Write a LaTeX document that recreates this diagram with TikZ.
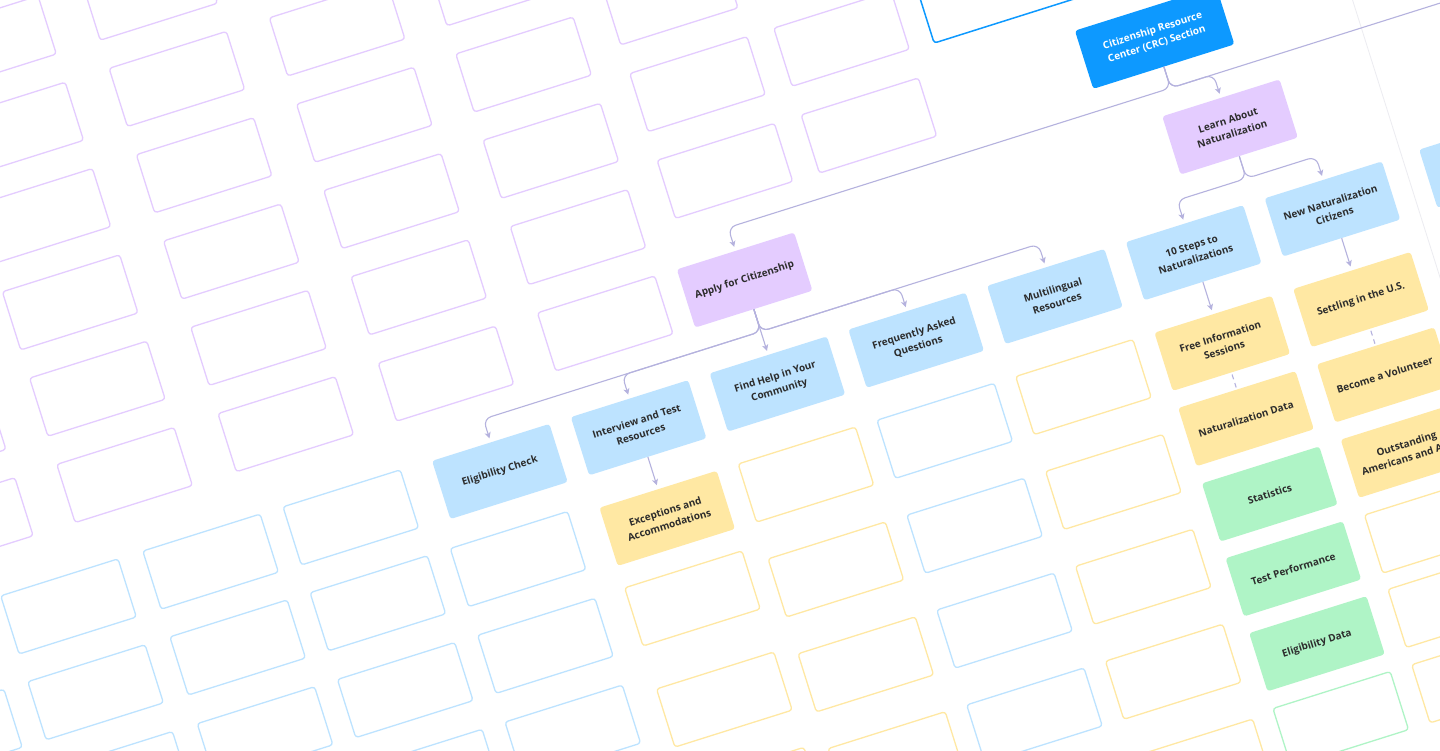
\documentclass[tikz,border=0pt]{standalone}
\usepackage{fontspec}
\setmainfont{Open Sans}
\usetikzlibrary{arrows.meta}
\definecolor{crcblue}{HTML}{0D99FF}
\definecolor{lilac}{HTML}{E4CCFF}
\definecolor{sky}{HTML}{BDE3FF}
\definecolor{butter}{HTML}{FFE8A3}
\definecolor{mint}{HTML}{AFF4C6}
\definecolor{wire}{HTML}{B5B2DE}
\definecolor{ink}{HTML}{2C2C2C}
\definecolor{divider}{HTML}{ECECF1}
\tikzset{
  card/.style={rounded corners=3pt, minimum width=123pt, minimum height=61pt, inner sep=0pt,
    align=center, text=ink, font=\bfseries\fontsize{10}{14}\selectfont},
  lilaccard/.style={card, fill=lilac},
  skycard/.style={card, fill=sky},
  buttercard/.style={card, fill=butter},
  mintcard/.style={card, fill=mint},
  ghost/.style={draw=#1, line width=1.3pt, rounded corners=3pt},
  link/.style={draw=wire, line width=1.1pt, rounded corners=8pt,
    -{Stealth[length=6pt,width=6pt,inset=1.5pt]}, shorten >=4pt},
  dashlink/.style={draw=wire, line width=1.1pt, dash pattern=on 5pt off 4pt,
    shorten <=2pt, shorten >=2pt}
}
\begin{document}
\begin{tikzpicture}[x=1pt, y=1pt]
\useasboundingbox (0,-750) rectangle (1440,0);
\fill[white] (0,-750) rectangle (1440,0);
\clip (0,-750) rectangle (1440,0);
\begin{scope}[transform canvas={rotate=17.5}]
\foreach \u in {-24,145,313,480}
  \foreach \v in {-38,-128.5,-219,-309.5,-400,-490.5}
    \draw[ghost=lilac, shift={(\u,\v)}] (-61.5,-30.5) rectangle (61.5,30.5);
\foreach \u/\v in {-191/-400,-191/-490.5,640/-199,640/-290,640/-381,791/-199,791/-290,791/-381}
  \draw[ghost=lilac, shift={(\u,\v)}] (-61.5,-30.5) rectangle (61.5,30.5);
\foreach \u in {-117,32,179}
  \foreach \v in {-599,-689,-780,-871}
    \draw[ghost=sky, shift={(\u,\v)}] (-61.5,-30.5) rectangle (61.5,30.5);
\foreach \u/\v in {-265/-689,-265/-780,326/-689,326/-780,326/-871,326/-962}
  \draw[ghost=sky, shift={(\u,\v)}] (-61.5,-30.5) rectangle (61.5,30.5);
\foreach \v in {-695,-794.5,-894,-993.5,-1093} {
  \draw[ghost=sky, shift={(771.5,\v)}] (-61.5,-30.5) rectangle (61.5,30.5);
  \draw[ghost=butter, shift={(626,\v)}] (-61.5,-30.5) rectangle (61.5,30.5);
  \draw[ghost=butter, shift={(917,\v)}] (-61.5,-30.5) rectangle (61.5,30.5);
}
\foreach \u/\v in {480.5/-779,480.5/-885,480.5/-985,1208/-932,1208/-1010,1208/-1089}
  \draw[ghost=butter, shift={(\u,\v)}] (-61.5,-30.5) rectangle (61.5,30.5);
\draw[ghost=mint, shift={(1062.5,-1089)}] (-61.5,-30.5) rectangle (61.5,30.5);
\draw[crcblue, line width=1.5pt, rounded corners=3pt] (878,-322) rectangle (1130,-230);
\draw[divider, line width=0.8pt] (1290,60) -- (1290,-1200);

\node[card, fill=crcblue, text=white, minimum width=148pt] (crc) at (1090,-383) {Citizenship Resource\\Center (CRC) Section};
\node[lilaccard] (apply) at (626,-491) {Apply for Citizenship};
\node[lilaccard] (learn) at (1135,-491) {Learn About\\Naturalization};
\node[skycard] (elig) at (335,-600) {Eligibility Check};
\node[skycard] (interview) at (480.5,-600) {Interview and Test\\Resources};
\node[skycard] (findhelp) at (626,-600) {Find Help in Your\\Community};
\node[skycard] (faq) at (771.5,-600) {Frequently Asked\\Questions};
\node[skycard] (multi) at (917,-600) {Multilingual\\Resources};
\node[skycard] (tensteps) at (1062.5,-600) {10 Steps to\\Naturalizations};
\node[skycard] (newnat) at (1208,-600) {New Naturalization\\Citizens};
\node[skycard] (nextsec) at (1370,-600) {};
\node[buttercard] (except) at (480.5,-695) {Exceptions and\\Accommodations};
\node[buttercard] (freeinfo) at (1062.5,-695) {Free Information\\Sessions};
\node[buttercard] (natdata) at (1062.5,-774) {Naturalization Data};
\node[mintcard] (stats) at (1062.5,-853) {Statistics};
\node[mintcard] (testperf) at (1062.5,-931.5) {Test Performance};
\node[mintcard] (eligdata) at (1062.5,-1010) {Eligibility Data};
\node[buttercard] (settling) at (1208,-695) {Settling in the U.S.};
\node[buttercard] (volunteer) at (1208,-774) {Become a Volunteer};
\node[buttercard] (outstanding) at (1208,-853) {Outstanding\\\makebox[102pt][l]{Americans and A}};

\coordinate (crcbus) at (0,-436);
\coordinate (applybus) at (0,-545);
\coordinate (learnbus) at (0,-545);
\coordinate (nextsib) at (1560,-470);

\draw[link] (crc.south) -- (crc.south |- crcbus) -| (apply.north);
\draw[link] (crc.south) -- (crc.south |- crcbus) -| (learn.north);
\draw[link] (crc.south) -- (crc.south |- crcbus) -| (nextsib);
\draw[link] (apply.south) -- (apply.south |- applybus) -| (elig.north);
\draw[link] (apply.south) -- (apply.south |- applybus) -| (interview.north);
\draw[link] (apply.south) -- (findhelp.north);
\draw[link] (apply.south) -- (apply.south |- applybus) -| (faq.north);
\draw[link] (apply.south) -- (apply.south |- applybus) -| (multi.north);
\draw[link] (learn.south) -- (learn.south |- learnbus) -| (tensteps.north);
\draw[link] (learn.south) -- (learn.south |- learnbus) -| (newnat.north);
\draw[link] (interview.south) -- (except.north);
\draw[link] (tensteps.south) -- (freeinfo.north);
\draw[link] (newnat.south) -- (settling.north);
\draw[dashlink] (freeinfo.south) -- (natdata.north);
\draw[dashlink] (settling.south) -- (volunteer.north);
\end{scope}
\end{tikzpicture}
\end{document}
